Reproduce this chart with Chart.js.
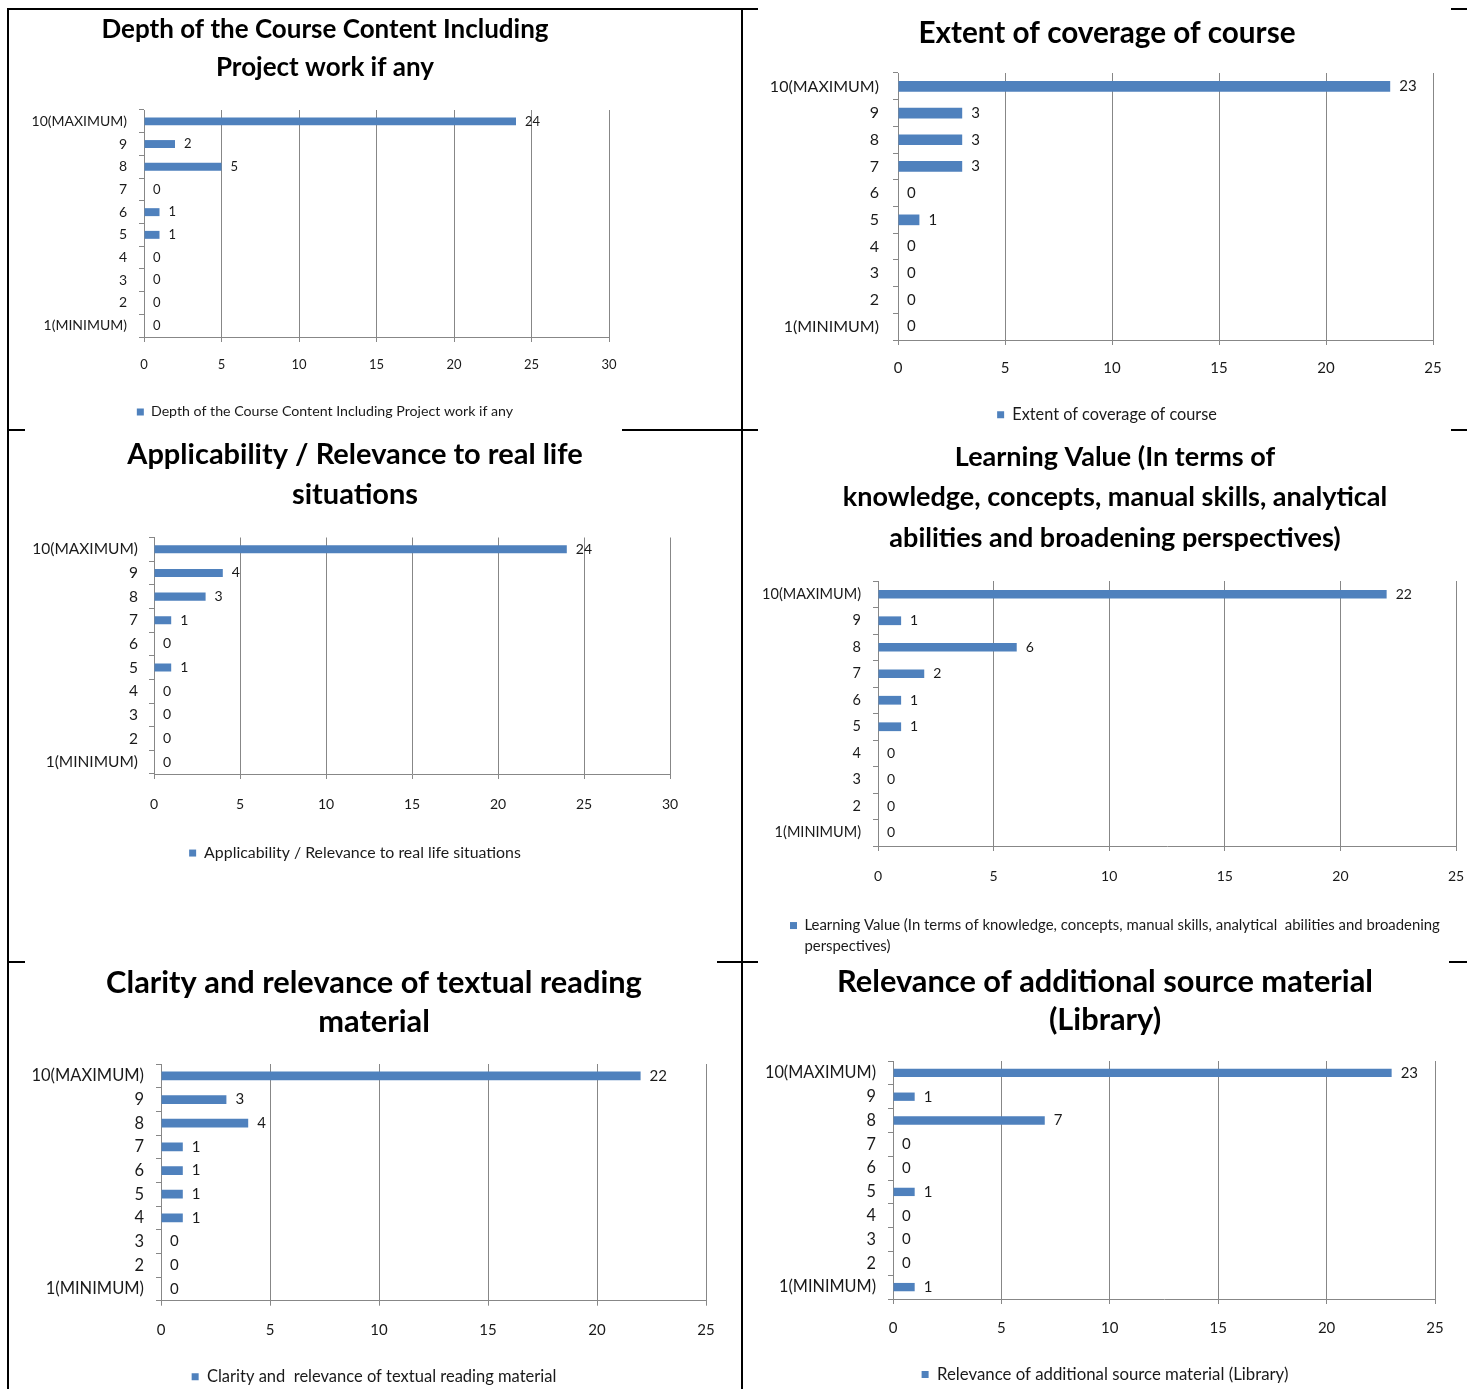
<!DOCTYPE html>
<html>
<head>
<meta charset="utf-8">
<title>Course feedback charts</title>
<script src="https://cdn.jsdelivr.net/npm/chart.js@4.4.1/dist/chart.umd.min.js"></script>
<style>
  html, body { margin: 0; padding: 0; background: #fff; overflow: hidden; }
  body { position: relative; width: 1467px; height: 1389px; }
  .rule { position: absolute; background: #000; }
  canvas { position: absolute; }
</style>
</head>
<body>
<!-- table frame -->
<div class="rule" style="left:7px;top:8px;width:751px;height:2px"></div>
<div class="rule" style="left:1451px;top:8px;width:16px;height:2px"></div>
<div class="rule" style="left:7px;top:429px;width:18px;height:2px"></div>
<div class="rule" style="left:622px;top:429px;width:136px;height:2px"></div>
<div class="rule" style="left:1451px;top:429px;width:16px;height:2px"></div>
<div class="rule" style="left:7px;top:961px;width:18px;height:2px"></div>
<div class="rule" style="left:717px;top:961px;width:41px;height:2px"></div>
<div class="rule" style="left:1449px;top:961px;width:18px;height:2px"></div>
<div class="rule" style="left:7px;top:8px;width:2px;height:1381px"></div>
<div class="rule" style="left:741px;top:8px;width:2px;height:1381px"></div>

<script>
const categories = ['10(MAXIMUM)', '9', '8', '7', '6', '5', '4', '3', '2', '1(MINIMUM)'];

const depthTitle = ['Depth of the Course Content Including', 'Project work if any'];
const depthLegend = 'Depth of the Course Content Including Project work if any';
const depthValues = [24, 2, 5, 0, 1, 1, 0, 0, 0, 0];
const depthMax = 30;

const extentTitle = ['Extent of coverage of course'];
const extentLegend = 'Extent of coverage of course';
const extentValues = [23, 3, 3, 3, 0, 1, 0, 0, 0, 0];
const extentMax = 25;

const applyTitle = ['Applicability / Relevance to real life', 'situations'];
const applyLegend = 'Applicability / Relevance to real life situations';
const applyValues = [24, 4, 3, 1, 0, 1, 0, 0, 0, 0];
const applyMax = 30;

const learningTitle = ['Learning Value (In terms of', 'knowledge, concepts, manual skills, analytical', 'abilities and broadening perspectives)'];
const learningLegend = ['Learning Value (In terms of knowledge, concepts, manual skills, analytical  abilities and broadening', 'perspectives)'];
const learningValues = [22, 1, 6, 2, 1, 1, 0, 0, 0, 0];
const learningMax = 25;

const clarityTitle = ['Clarity and relevance of textual reading', 'material'];
const clarityLegend = 'Clarity and  relevance of textual reading material';
const clarityValues = [22, 3, 4, 1, 1, 1, 1, 0, 0, 0];
const clarityMax = 25;

const libraryTitle = ['Relevance of additional source material', '(Library)'];
const libraryLegend = 'Relevance of additional source material (Library)';
const libraryValues = [23, 1, 7, 0, 0, 1, 0, 0, 0, 1];
const libraryMax = 25;

const FONT = 'Lato, "Open Sans", sans-serif';
const BAR = '#4F81BD';
const GRID = '#878787';
const INK = '#1a1a1a';

// value written just past the end of each bar
const valueLabels = {
  id: 'valueLabels',
  afterDatasetsDraw(chart, args, opts) {
    const ctx = chart.ctx;
    ctx.save();
    ctx.font = `${opts.size}px ${FONT}`;
    ctx.fillStyle = INK;
    ctx.textAlign = 'left';
    ctx.textBaseline = 'middle';
    chart.data.datasets.forEach((ds, i) => {
      chart.getDatasetMeta(i).data.forEach((bar, j) => {
        ctx.fillText(String(ds.data[j]), bar.x + opts.offset, bar.y);
      });
    });
    ctx.restore();
  }
};

// the legend box does not grow for a wrapped label, so give it room
const legendRoom = {
  id: 'legendRoom',
  beforeLayout(chart, args, opts) {
    const lg = chart.legend;
    if (!lg || lg._roomPatched || !opts.extra) return;
    const fit = lg.fit;
    lg.fit = function () { fit.call(this); this.height += opts.extra; };
    lg._roomPatched = true;
  }
};

const panels = [
  { title: depthTitle, legend: depthLegend, values: depthValues, max: depthMax,
    left: 25, top: 11, width: 600, height: 418, yw: 119, xh: 57.8, gapR: 16, titleSize: 26,
    titleLH: 38, titlePB: 23, xPad: 15.2, yPad: 12, tick: 13, ySize: 14, legendSize: 14.2,
    legendPad: 10, legendAlign: 'center', extra: 0, bar: 0.35 },
  { title: extentTitle, legend: extentLegend, values: extentValues, max: extentMax,
    left: 758, top: 14, width: 698, height: 419, yw: 140, xh: 56.7, gapR: 23, titleSize: 29.7,
    titleLH: 38, titlePB: 21, xPad: 14, yPad: 14, tick: 15, ySize: 16, legendSize: 16.3,
    legendPad: 10, legendAlign: 'center', extra: 0, bar: 0.40 },
  { title: applyTitle, legend: applyLegend, values: applyValues, max: applyMax,
    left: 16, top: 435, width: 678, height: 436, yw: 138, xh: 61.1, gapR: 24, titleSize: 29,
    titleLH: 40, titlePB: 22.5, xPad: 16.6, yPad: 11, tick: 14, ySize: 15.5, legendSize: 15.9,
    legendPad: 10, legendAlign: 'center', extra: 0, bar: 0.34 },
  { title: learningTitle, legend: learningLegend, values: learningValues, max: learningMax,
    left: 760, top: 437, width: 710, height: 527, yw: 118, xh: 42.1, gapR: 14, titleSize: 27,
    titleLH: 40.5, titlePB: 22.5, xPad: 16.6, yPad: 12, tick: 14, ySize: 14.5, legendSize: 14.9,
    legendPad: 30, legendAlign: 'start', extra: 21, bar: 0.33 },
  { title: clarityTitle, legend: clarityLegend, values: clarityValues, max: clarityMax,
    left: 22, top: 964, width: 704, height: 431, yw: 139, xh: 57.8, gapR: 20, titleSize: 30.8,
    titleLH: 39, titlePB: 22, xPad: 15.3, yPad: 12, tick: 15, ySize: 16.5, legendSize: 16.5,
    legendPad: 10, legendAlign: 'center', extra: 0, bar: 0.37 },
  { title: libraryTitle, legend: libraryLegend, values: libraryValues, max: libraryMax,
    left: 755, top: 963, width: 700, height: 430, yw: 138, xh: 57.2, gapR: 20, titleSize: 30.8,
    titleLH: 38, titlePB: 22, xPad: 15, yPad: 12, tick: 15, ySize: 16.3, legendSize: 16.8,
    legendPad: 10, legendAlign: 'center', extra: 0, bar: 0.35 }
];

panels.forEach(p => {
  const canvas = document.createElement('canvas');
  canvas.width = p.width;
  canvas.height = p.height;
  canvas.style.left = p.left + 'px';
  canvas.style.top = p.top + 'px';
  document.body.appendChild(canvas);

  new Chart(canvas, {
    type: 'bar',
    data: {
      labels: categories,
      datasets: [{
        label: p.legend,
        data: p.values,
        backgroundColor: BAR,
        borderWidth: 0,
        barPercentage: 1,
        categoryPercentage: p.bar
      }]
    },
    options: {
      indexAxis: 'y',
      responsive: false,
      animation: false,
      events: [],
      layout: { padding: 0 },
      scales: {
        x: {
          min: 0,
          max: p.max,
          ticks: { stepSize: 5, padding: p.xPad, color: INK, font: { family: FONT, size: p.tick } },
          grid: { color: GRID, lineWidth: 1, drawTicks: true, tickLength: 5, tickColor: GRID },
          border: { display: true, color: GRID, width: 1 },
          afterFit: s => { s.height = p.xh; s.paddingLeft = 0; s.paddingRight = p.gapR; }
        },
        y: {
          ticks: { padding: p.yPad, color: INK, font: { family: FONT, size: p.ySize } },
          grid: { drawOnChartArea: false, drawTicks: true, tickLength: 5, color: GRID, tickColor: GRID },
          border: { display: true, color: GRID, width: 1 },
          afterFit: s => { s.width = p.yw; s.paddingTop = 0; s.paddingBottom = 0; }
        }
      },
      plugins: {
        title: {
          display: true,
          text: p.title,
          color: '#000',
          font: { family: FONT, size: p.titleSize, weight: 'bold', lineHeight: p.titleLH + 'px' },
          padding: { top: 0, bottom: p.titlePB }
        },
        legend: {
          display: true,
          position: 'bottom',
          align: p.legendAlign,
          labels: {
            boxWidth: 7, boxHeight: 7, padding: p.legendPad, color: INK,
            font: { family: FONT, size: p.legendSize, lineHeight: '21px' }
          }
        },
        tooltip: { enabled: false },
        valueLabels: { size: p.tick, offset: 9 },
        legendRoom: { extra: p.extra }
      }
    },
    plugins: [valueLabels, legendRoom]
  });
});
</script>
</body>
</html>
